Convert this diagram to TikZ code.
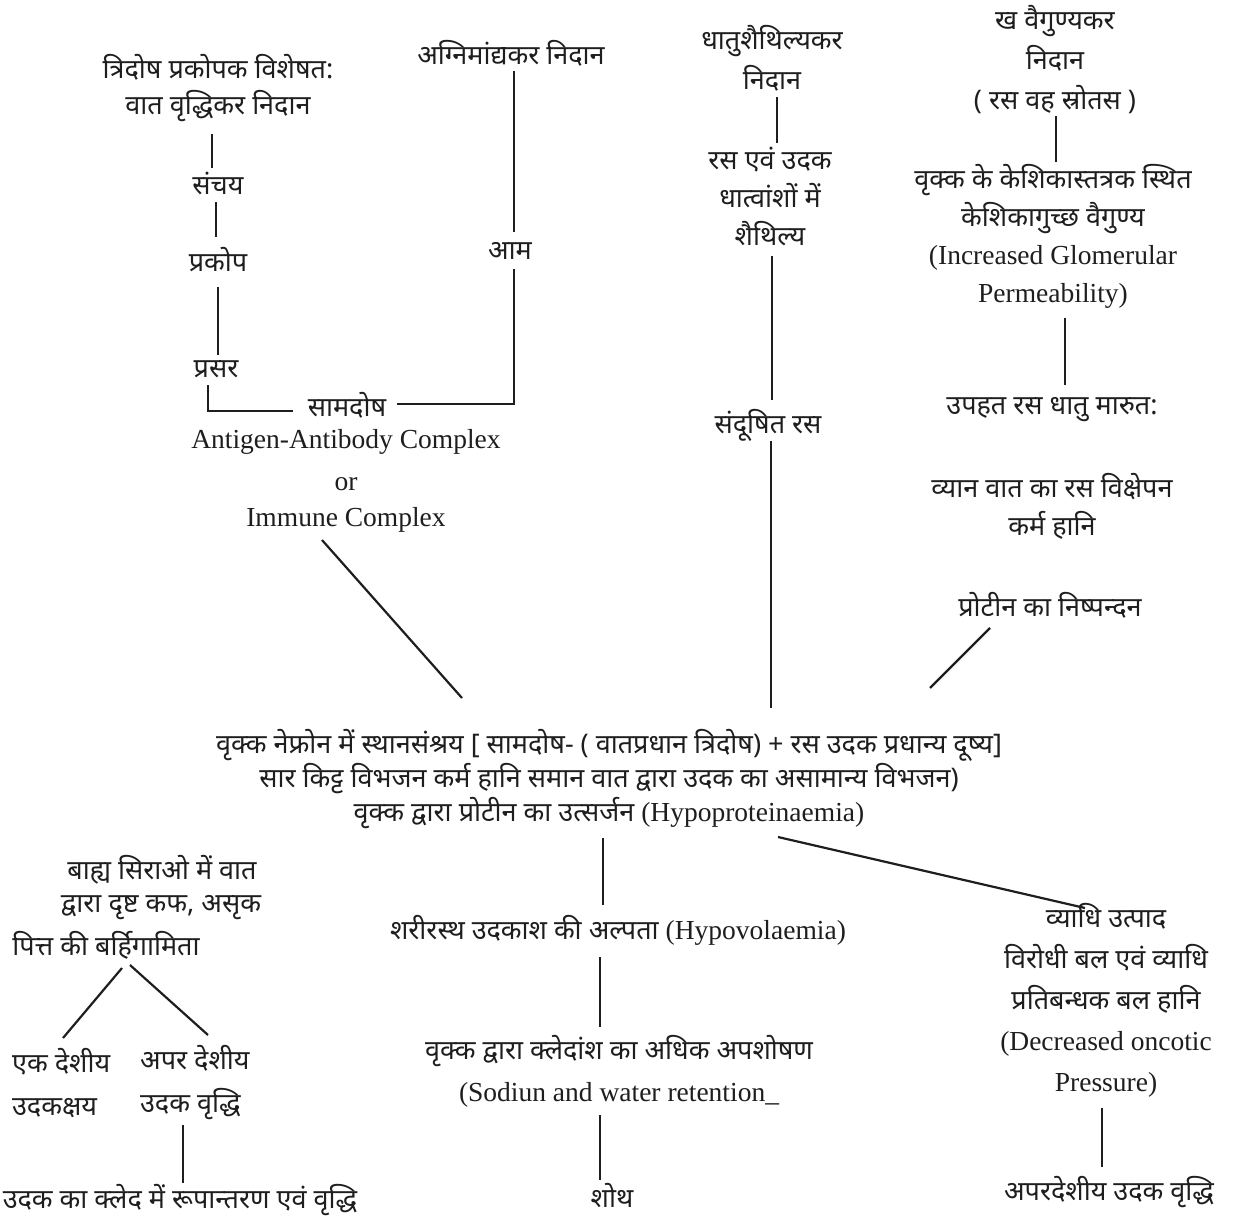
\documentclass[tikz,border=0pt]{standalone}
\usepackage{fontspec}
\setmainfont{Liberation Serif}
\newfontfamily\dev[Script=Devanagari]{Noto Sans}
\usetikzlibrary{calc}
\definecolor{ink}{HTML}{1E1E1E}
\newcommand{\dvs}{\fontsize{27}{38}\selectfont\dev}
\newcommand{\ens}{\fontsize{27.5}{38}\selectfont\rmfamily}
\begin{document}
\begin{tikzpicture}[x=1pt,y=-1pt,
  lbl/.style={inner sep=2pt, align=center, text=ink, font=\dvs},
  eng/.style={inner sep=2pt, align=center, text=ink, font=\ens},
  conn/.style={line width=2.2pt, draw=ink}]
\useasboundingbox[fill=white] (0,0) rectangle (1234,1224);
% ---------- top left ----------
\node[lbl, font=\fontsize{27}{36}\selectfont\dev] (tri) at (218,88) {त्रिदोष प्रकोपक विशेषत:\\वात वृद्धिकर निदान};
\node[lbl] (sanc) at (218,183) {संचय};
\node[lbl] (prak) at (218,260) {प्रकोप};
\node[lbl] (pras) at (216,369) {प्रसर};
\node[lbl] (sam) at (347,405) {सामदोष};
\node[lbl] (agni) at (511,53) {अग्निमांद्यकर निदान};
\node[lbl] (aam) at (510,251) {आम};
\node[eng] (ag) at (346,442) {Antigen-Antibody Complex};
\node[eng] (or) at (346,484) {or};
\node[eng] (imm) at (346,520) {Immune Complex};
% ---------- top middle ----------
\node[lbl, font=\fontsize{27}{40}\selectfont\dev] (dhs) at (772,58) {धातुशैथिल्यकर\\निदान};
\node[lbl] (ras) at (770,196) {रस एवं उदक\\धात्वांशों में\\शैथिल्य};
\node[lbl] (sand) at (768,425) {संदूषित रस};
% ---------- top right ----------
\node[lbl, font=\fontsize{27}{40}\selectfont\dev] (kha) at (1055,60) {ख वैगुण्यकर\\निदान\\( रस वह स्रोतस )};
\node[eng] (vrk) at (1053,236) {{\dvs वृक्क के केशिकास्तत्रक स्थित}\\{\dvs केशिकागुच्छ वैगुण्य}\\(Increased Glomerular\\Permeability)};
\node[lbl] (upa) at (1052,410) {उपहत रस धातु मारुत:};
\node[lbl] (vya) at (1052,506) {व्यान वात का रस विक्षेपन\\कर्म हानि};
\node[lbl] (prot) at (1050,605) {प्रोटीन का निष्पन्दन};
% ---------- centre ----------
\node[lbl, font=\fontsize{27}{34}\selectfont\dev] (ctr) at (609,779) {वृक्क नेफ्रोन में स्थानसंश्रय [ सामदोष- ( वातप्रधान त्रिदोष) + रस उदक प्रधान्य दूष्य]\\सार किट्ट विभजन कर्म हानि समान वात द्वारा उदक का असामान्य विभजन)\\वृक्क द्वारा प्रोटीन का उत्सर्जन {\fontsize{27.5}{34}\selectfont\rmfamily (Hypoproteinaemia)}};
% ---------- bottom middle ----------
\node[lbl] (hypo) at (618,930) {शरीरस्थ उदकाश की अल्पता {\ens (Hypovolaemia)}};
\node[eng, font=\fontsize{27.5}{42}\selectfont\rmfamily] (sod) at (619,1071) {{\fontsize{27}{42}\selectfont\dev वृक्क द्वारा क्लेदांश का अधिक अपशोषण}\\(Sodiun and water retention\_};
\node[lbl] (shoth) at (612,1195) {शोथ};
% ---------- bottom right ----------
\node[lbl, font=\fontsize{27}{41}\selectfont\dev] (vyadhi) at (1106,1000) {व्याधि उत्पाद\\विरोधी बल एवं व्याधि\\प्रतिबन्धक बल हानि\\{\fontsize{27.5}{41}\selectfont\rmfamily (Decreased oncotic}\\{\fontsize{27.5}{41}\selectfont\rmfamily Pressure)}};
\node[lbl] (apar) at (1109,1192) {अपरदेशीय उदक वृद्धि};
% ---------- bottom left ----------
\node[lbl] (b1) at (162,870) {बाह्य सिराओ में वात};
\node[lbl] (b2) at (161,908) {द्वारा दृष्ट कफ, असृक};
\node[lbl] (b3) at (106,945) {पित्त की बर्हिगामिता};
\node[lbl, align=left, anchor=west, font=\fontsize{27}{43}\selectfont\dev] (ek) at (10,1083) {एक देशीय\\उदकक्षय};
\node[lbl, align=left, anchor=west, font=\fontsize{27}{43}\selectfont\dev] (apd) at (138,1083) {अपर देशीय\\उदक वृद्धि};
\node[lbl] (kled) at (180,1200) {उदक का क्लेद में रूपान्तरण एवं वृद्धि};
% ---------- connectors ----------
\draw[conn] ($(tri)+(-6,46)$) -- ($(sanc)+(-6,-15)$);
\draw[conn] ($(sanc)+(-2,19)$) -- ($(prak)+(-2,-23)$);
\draw[conn] ($(prak)+(0,27)$) -- ($(pras)+(2,-14)$);
\draw[conn] ($(pras)+(-8,16)$) |- ($(sam)+(-54,6)$);
\draw[conn] ($(sam)+(50,-1)$) -| ($(aam)+(4,18)$);
\draw[conn] ($(agni)+(3,18)$) -- ($(aam)+(4,-19)$);
\draw[conn] ($(imm)+(-24,20)$) -- ($(ctr)+(-147,-81)$);
\draw[conn] ($(dhs)+(5,39)$) -- ($(ras)+(7,-53)$);
\draw[conn] ($(ras)+(2,60)$) -- ($(sand)+(4,-25)$);
\draw[conn] ($(sand)+(3,16)$) -- ($(ctr)+(162,-71)$);
\draw[conn] ($(kha)+(1,56)$) -- ($(vrk)+(3,-74)$);
\draw[conn] ($(vrk)+(12,82)$) -- ($(upa)+(13,-25)$);
\draw[conn] ($(prot)+(-60,23)$) -- ($(ctr)+(321,-91)$);
\draw[conn] ($(ctr)+(-6,59)$) -- ($(hypo)+(-15,-25)$);
\draw[conn] ($(ctr)+(169,58)$) -- ($(vyadhi)+(-21,-92)$);
\draw[conn] ($(hypo)+(-18,27)$) -- ($(sod)+(-19,-44)$);
\draw[conn] ($(sod)+(-19,44)$) -- ($(shoth)+(-12,-15)$);
\draw[conn] ($(vyadhi)+(-4,108)$) -- ($(apar)+(-7,-25)$);
\draw[conn] ($(b3)+(16,23)$) -- ($(ek.west)+(53,-45)$);
\draw[conn] ($(b3)+(24,20)$) -- ($(apd.west)+(70,-48)$);
\draw[conn] ($(apd.west)+(45,42)$) -- ($(kled)+(3,-17)$);
\end{tikzpicture}
\end{document}
